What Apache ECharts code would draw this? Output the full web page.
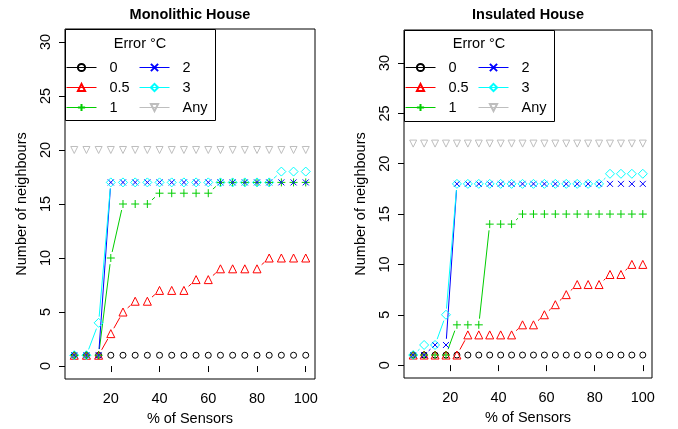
<!DOCTYPE html>
<html>
<head>
<meta charset="utf-8">
<script src="https://cdn.jsdelivr.net/npm/echarts@6/dist/echarts.min.js"></script>
<style>
  html, body { margin: 0; padding: 0; background: #fff; }
  #chart { width: 678px; height: 429px; }
</style>
</head>
<body>
<div id="chart"></div>
<script>
// 误差等级（图例）
const errorLevels = ["0", "0.5", "1", "2", "3", "Any"];

// Monolithic House：传感器百分比
const monoSensors = [5, 10, 15, 20, 25, 30, 35, 40, 45, 50, 55, 60, 65, 70, 75, 80, 85, 90, 95, 100];
const monoErr0 = [1, 1, 1, 1, 1, 1, 1, 1, 1, 1, 1, 1, 1, 1, 1, 1, 1, 1, 1, 1];
const monoErr05 = [1, 1, 1, 3, 5, 6, 6, 7, 7, 7, 8, 8, 9, 9, 9, 9, 10, 10, 10, 10];
const monoErr1 = [1, 1, 1, 10, 15, 15, 15, 16, 16, 16, 16, 16, 17, 17, 17, 17, 17, 17, 17, 17];
const monoErr2 = [1, 1, 1, 17, 17, 17, 17, 17, 17, 17, 17, 17, 17, 17, 17, 17, 17, 17, 17, 17];
const monoErr3 = [1, 1, 4, 17, 17, 17, 17, 17, 17, 17, 17, 17, 17, 17, 17, 17, 17, 18, 18, 18];
const monoAny = [20, 20, 20, 20, 20, 20, 20, 20, 20, 20, 20, 20, 20, 20, 20, 20, 20, 20, 20, 20];

// Insulated House：传感器百分比（22 个点）
const insuSensors = [4.55, 9.09, 13.64, 18.18, 22.73, 27.27, 31.82, 36.36, 40.91, 45.45, 50,
  54.55, 59.09, 63.64, 68.18, 72.73, 77.27, 81.82, 86.36, 90.91, 95.45, 100];
const insuErr0 = [1, 1, 1, 1, 1, 1, 1, 1, 1, 1, 1, 1, 1, 1, 1, 1, 1, 1, 1, 1, 1, 1];
const insuErr05 = [1, 1, 1, 1, 1, 3, 3, 3, 3, 3, 4, 4, 5, 6, 7, 8, 8, 8, 9, 9, 10, 10];
const insuErr1 = [1, 1, 1, 1, 4, 4, 4, 14, 14, 14, 15, 15, 15, 15, 15, 15, 15, 15, 15, 15, 15, 15];
const insuErr2 = [1, 1, 2, 2, 18, 18, 18, 18, 18, 18, 18, 18, 18, 18, 18, 18, 18, 18, 18, 18, 18, 18];
const insuErr3 = [1, 2, 2, 5, 18, 18, 18, 18, 18, 18, 18, 18, 18, 18, 18, 18, 18, 18, 19, 19, 19, 19];
const insuAny = [22, 22, 22, 22, 22, 22, 22, 22, 22, 22, 22, 22, 22, 22, 22, 22, 22, 22, 22, 22, 22, 22];

// 刻度
const xTicks = [20, 40, 60, 80, 100];
const yTicks = [0, 5, 10, 15, 20, 25, 30];

const FONT = "Liberation Sans, Arial, Helvetica, sans-serif";
const GAP = 6.2; // type="b" 线段两端留空
const colors = ["#000000", "#FF0000", "#00CD00", "#0000FF", "#00FFFF", "#BEBEBE"];
const symbols = [
  { symbol: "circle", size: 6, rotate: 0 },
  { symbol: "triangle", size: 8, rotate: 0 },
  { symbol: "path://M0,5L10,5M5,0L5,10", size: 8, rotate: 0 },
  { symbol: "path://M0,0L10,10M10,0L0,10", size: 6, rotate: 0 },
  { symbol: "diamond", size: 9, rotate: 0 },
  { symbol: "triangle", size: 7, rotate: 180 }
];

const panels = [
  { sensors: monoSensors, values: [monoErr0, monoErr05, monoErr1, monoErr2, monoErr3, monoAny] },
  { sensors: insuSensors, values: [insuErr0, insuErr05, insuErr1, insuErr2, insuErr3, insuAny] }
];

const pairs = (xs, ys) => {
  const out = [];
  for (let i = 1; i < xs.length; i++) out.push([xs[i - 1], ys[i - 1], xs[i], ys[i]]);
  return out;
};

const series = [];
panels.forEach((panel, p) => {
  panel.values.forEach((ys, k) => {
    const color = colors[k];
    // 点
    series.push({
      type: "line",
      name: errorLevels[k],
      xAxisIndex: p,
      yAxisIndex: p,
      data: panel.sensors.map((x, i) => [x, ys[i]]),
      symbol: symbols[k].symbol,
      symbolSize: symbols[k].size,
      symbolRotate: symbols[k].rotate,
      showAllSymbol: true,
      itemStyle: { color: "rgba(0,0,0,0)", borderColor: color, borderWidth: 1 },
      lineStyle: { color: color, width: 1, opacity: 0 },
      emphasis: { disabled: true },
      z: 3 + k * 0.1
    });
    // 线段（两端留空）
    series.push({
      type: "custom",
      name: errorLevels[k],
      xAxisIndex: p,
      yAxisIndex: p,
      data: pairs(panel.sensors, ys),
      encode: { x: [0, 2], y: [1, 3] },
      silent: true,
      z: 3 + k * 0.1,
      renderItem: (params, api) => {
        const a = api.coord([api.value(0), api.value(1)]);
        const b = api.coord([api.value(2), api.value(3)]);
        const dx = b[0] - a[0];
        const dy = b[1] - a[1];
        const d = Math.sqrt(dx * dx + dy * dy);
        if (d <= 2 * GAP) return null;
        const f = GAP / d;
        return {
          type: "line",
          shape: { x1: a[0] + f * dx, y1: a[1] + f * dy, x2: b[0] - f * dx, y2: b[1] - f * dy },
          style: { stroke: color, lineWidth: 1 }
        };
      }
    });
  });
});

const grids = [
  { left: 65, top: 29, width: 250, height: 350, xMin: 1.2, xMax: 103.8, yMin: -1.2, yMax: 31.2, title: "Monolithic House" },
  { left: 404, top: 30, width: 248, height: 348, xMin: 0.73, xMax: 103.82, yMin: -1.28, yMax: 33.28, title: "Insulated House" }
];

const axisText = { color: "#000", fontSize: 14.5, fontFamily: FONT };

const legendBase = {
  orient: "vertical",
  padding: 0,
  itemGap: 5,
  itemWidth: 30,
  itemHeight: 9,
  selectedMode: false,
  lineStyle: { opacity: 1, width: 1 },
  textStyle: { color: "#000", fontSize: 14.5, fontFamily: FONT, lineHeight: 14, padding: [0, 0, 0, 8] }
};

const legends = [];
const graphics = [];
grids.forEach(g => {
  legends.push(Object.assign({}, legendBase, { left: g.left + 1, top: 60, data: errorLevels.slice(0, 3) }));
  legends.push(Object.assign({}, legendBase, { left: g.left + 74, top: 60, data: errorLevels.slice(3) }));
  graphics.push({
    type: "rect", z: 3.9,
    shape: { x: g.left + 0.5, y: g.top + 0.5, width: 150, height: 91 },
    style: { fill: "#fff", stroke: "#000", lineWidth: 1 }
  });
  graphics.push({
    type: "text", z: 4,
    x: g.left + 75, y: 44,
    style: { text: "Error °C", fill: "#000", font: "14.5px " + FONT, align: "center", verticalAlign: "middle", textAlign: "center", textVerticalAlign: "middle" }
  });
  graphics.push({
    type: "text", z: 4,
    x: g.left + g.width / 2, y: 15,
    style: { text: g.title, fill: "#000", font: "bold 14.5px " + FONT, align: "center", verticalAlign: "middle", textAlign: "center", textVerticalAlign: "middle" }
  });
});

const option = {
  animation: false,
  backgroundColor: "#fff",
  textStyle: { fontFamily: FONT },
  grid: grids.map(g => ({
    left: g.left, top: g.top, width: g.width, height: g.height,
    containLabel: false, outerBoundsMode: "none",
    show: true, borderColor: "#000", borderWidth: 1, backgroundColor: "transparent"
  })),
  xAxis: grids.map((g, i) => ({
    type: "value",
    gridIndex: i,
    min: g.xMin,
    max: g.xMax,
    name: "% of Sensors",
    nameLocation: "middle",
    nameGap: 32,
    nameTextStyle: axisText,
    axisLine: { show: false },
    axisTick: { show: true, length: 6, customValues: xTicks, lineStyle: { color: "#000" } },
    axisLabel: Object.assign({ customValues: xTicks, margin: 12 }, axisText),
    splitLine: { show: false }
  })),
  yAxis: grids.map((g, i) => ({
    type: "value",
    gridIndex: i,
    min: g.yMin,
    max: g.yMax,
    name: "Number of neighbours",
    nameLocation: "middle",
    nameGap: 36,
    nameTextStyle: axisText,
    axisLine: { show: false },
    axisTick: { show: true, length: 6, customValues: yTicks, lineStyle: { color: "#000" } },
    axisLabel: Object.assign({ customValues: yTicks, margin: 12, rotate: 90 }, axisText),
    splitLine: { show: false }
  })),
  legend: legends,
  graphic: graphics,
  series: series
};

const chart = echarts.init(document.getElementById("chart"));
chart.setOption(option);
</script>
</body>
</html>
